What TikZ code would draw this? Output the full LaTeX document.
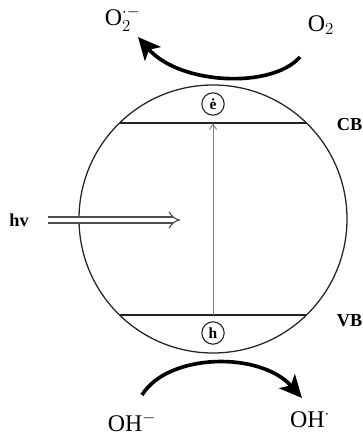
\documentclass[tikz,border=0pt]{standalone}
\usepackage{fontspec}
\setmainfont{Liberation Serif}
\usetikzlibrary{arrows.meta, positioning, calc}
\definecolor{cdark}{RGB}{35,35,35}
\definecolor{cgray}{RGB}{130,130,130}

\begin{document}
\begin{tikzpicture}[
    >={Stealth[length=2.5mm]},
    band/.style={draw=cdark, line width=1pt},
    carrier/.style={draw=cdark, circle, line width=0.8pt, minimum size=0.56cm, inner sep=0pt, font=\fontsize{11}{11}\selectfont\bfseries},
    chem/.style={font=\fontsize{17}{19}\selectfont},
    label/.style={font=\fontsize{13}{15}\selectfont\bfseries},
    flow/.style={line width=2.6pt, -{Stealth[length=16pt, width=15pt, inset=4pt]}},
]
    \useasboundingbox (0,0) rectangle (9.05,11.025);

    % Particle
    \node[draw=cdark, circle, line width=0.9pt, minimum size=6.7cm, inner sep=0pt, outer sep=0pt] (sc) at (5.325,5.55) {};

    % Bands
    \coordinate (cbl) at (2.988,7.95);
    \coordinate (cbr) at (7.662,7.95);
    \coordinate (vbl) at (2.988,3.15);
    \coordinate (vbr) at (7.662,3.15);
    \draw[band] (cbl) -- (cbr);
    \draw[band] (vbl) -- (vbr);
    \coordinate (cb) at ($(cbl)!0.5!(cbr)$);
    \coordinate (vb) at ($(vbl)!0.5!(vbr)$);
    \node[label, anchor=west] (cblab) at (8.3,7.9) {CB};
    \node[label, anchor=west] (vblab) at (8.3,3.02) {VB};

    % Excitation
    \draw[cgray, line width=0.7pt, -{Straight Barb[length=4pt, width=5pt]}] (vb) -- (cb);
    \node[carrier] (e) at (5.325,8.425) {\.{e}};
    \node[carrier] (h) at (5.325,2.7) {h};

    % Light
    \node[label] (hv) at (0.475,5.525) {hv};
    \coordinate (hvend) at (4.5,5.525);
    \draw[draw=cdark!80, double=white, double distance=3.5pt, line width=0.8pt, -{Implies}, shorten <=0.35cm] (hv.east) -- (hvend);

    % Reduction
    \node[chem, anchor=west] (o2) at (7.575,10.4) {O$_2$};
    \node[chem, anchor=west] (o2rad) at (2.5,10.55) {O$_2^{\cdot-}$};
    \coordinate (o2out) at (7.5,9.6);
    \coordinate (o2in) at (3.45,10.1);
    \draw[flow] (o2out) .. controls (6.8,8.8) and (4.5,8.9) .. (o2in);

    % Oxidation
    \node[chem] (oh) at (3.3,0.475) {OH$^{-}$};
    \node[chem] (ohrad) at (7.75,0.55) {OH$^{\cdot}$};
    \coordinate (ohin) at (3.55,1.15);
    \coordinate (ohout) at (7.55,1.075);
    \draw[flow] (ohin) .. controls (4.2,2.2) and (6.5,2.25) .. (ohout);
\end{tikzpicture}
\end{document}
